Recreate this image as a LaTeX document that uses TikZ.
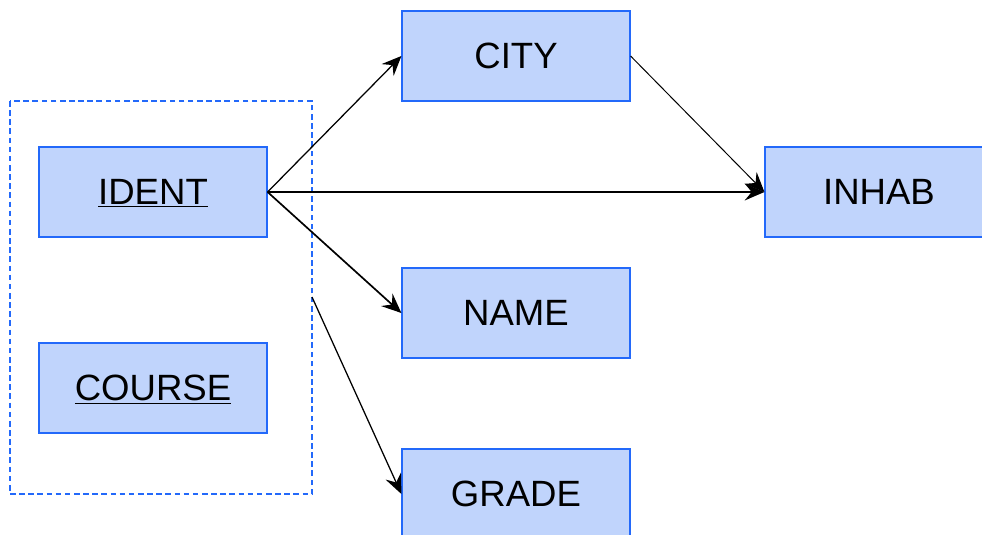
\documentclass[tikz,border=0pt]{standalone}
\usepackage{fontspec}
\setmainfont{Liberation Sans}
\usetikzlibrary{arrows.meta}

\definecolor{attrfill}{RGB}{192,212,252}
\definecolor{attrline}{RGB}{35,105,250}

\begin{document}
\begin{tikzpicture}[x=0.025cm,y=-0.025cm,
		attr/.style={draw=attrline,fill=attrfill,line width=0.8pt,minimum width=5.7cm,minimum height=2.25cm,text height=18pt,text depth=0pt,font=\fontsize{26}{30}\selectfont},
		fd/.style={line width=0.9pt,-{Stealth[length=14pt,width=12pt,inset=5pt]}},
		keygroup/.style={draw=attrline,line width=0.8pt,dash pattern=on 4pt off 2.5pt}]
		\useasboundingbox (0,0) rectangle (982,534);
		
		% key attributes
		\node[attr] (ident) at (153,192) {\underline{IDENT}};
		\node[attr] (course) at (153,388) {\underline{COURSE}};
		\draw[keygroup] (10,101) rectangle (312,494);
		\coordinate (key) at (312,297);
		
		% dependent attributes
		\node[attr] (city) at (516,56) {CITY};
		\node[attr] (name) at (516,313) {NAME};
		\node[attr] (grade) at (516,494) {GRADE};
		\node[attr] (inhab) at (879,192) {INHAB};
		
		% dependencies
		\draw[fd] (ident.east) -- (city.west);
		\draw[fd,line width=1.6pt] (ident.east) -- (inhab.west);
		\draw[fd,line width=1.2pt] (ident.east) -- (name.west);
		\draw[fd] (key) -- (grade.west);
		\draw[fd,line width=0.7pt] (city.east) -- (inhab.west);
		
	\end{tikzpicture}
\end{document}
